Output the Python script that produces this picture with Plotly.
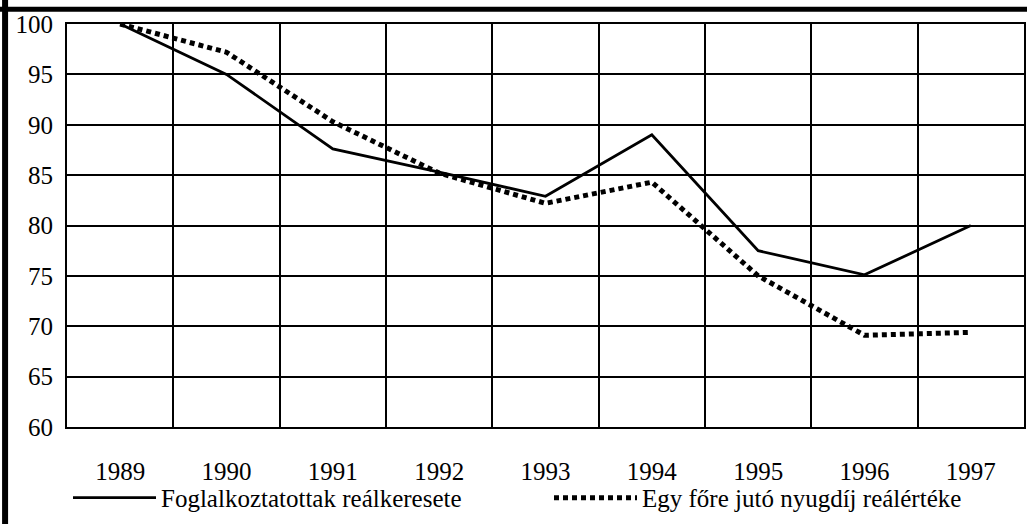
import plotly.graph_objects as go

years = ["1989", "1990", "1991", "1992", "1993", "1994", "1995", "1996", "1997"]
kereset = [100, 95.0, 87.6, 85.3, 82.9, 89.0, 77.5, 75.1, 80.0]
nyugdij = [100, 97.2, 90.3, 85.2, 82.2, 84.3, 75.0, 69.1, 69.4]
y_ticks = [60, 65, 70, 75, 80, 85, 90, 95, 100]

name_kereset = "Foglalkoztatottak reálkeresete"
name_nyugdij = "Egy főre jutó nyugdíj reálértéke"

FONT = "Liberation Serif, Times New Roman, serif"

fig = go.Figure()
fig.add_trace(go.Scatter(x=years, y=kereset, mode="lines", name=name_kereset,
                         line=dict(color="black", width=2.8)))
fig.add_trace(go.Scatter(x=years, y=nyugdij, mode="lines", name=name_nyugdij,
                         line=dict(color="black", width=5, dash="5px,4px")))

fig.update_layout(
    width=1027, height=524,
    margin=dict(l=67, r=1, t=24, b=97),
    paper_bgcolor="white", plot_bgcolor="white",
    font=dict(family=FONT, color="black", size=25),
    xaxis=dict(type="category", range=[-0.5, 8.5], tickson="boundaries",
               showgrid=True, gridcolor="black", gridwidth=1.6,
               showline=True, linecolor="black", linewidth=2, mirror=True,
               ticks="", ticklabelstandoff=21, zeroline=False,
               tickfont=dict(family=FONT, size=25)),
    yaxis=dict(range=[60, 100], tickvals=y_ticks,
               showgrid=True, gridcolor="black", gridwidth=1.6,
               showline=True, linecolor="black", linewidth=2, mirror=True,
               ticks="", ticklabelstandoff=7, zeroline=False,
               tickfont=dict(family=FONT, size=25)),
    showlegend=True,
    legend=dict(orientation="h", x=-0.0001, xanchor="left", y=-0.176, yanchor="middle",
                font=dict(family=FONT, size=25), itemwidth=83,
                entrywidth=380, entrywidthmode="pixels", indentation=3,
                bgcolor="rgba(0,0,0,0)"),
    shapes=[
        dict(type="line", xref="paper", yref="paper", x0=-0.0647, x1=-0.0647,
             y0=1.06, y1=-0.3, line=dict(color="black", width=6)),
        dict(type="line", xref="paper", yref="paper", x0=-0.075, x1=1.01,
             y0=1.0365, y1=1.0365, line=dict(color="black", width=5)),
    ],
)

fig.write_html("out.html", config={"displayModeBar": False},
               post_script="document.body.style.margin='0';")
